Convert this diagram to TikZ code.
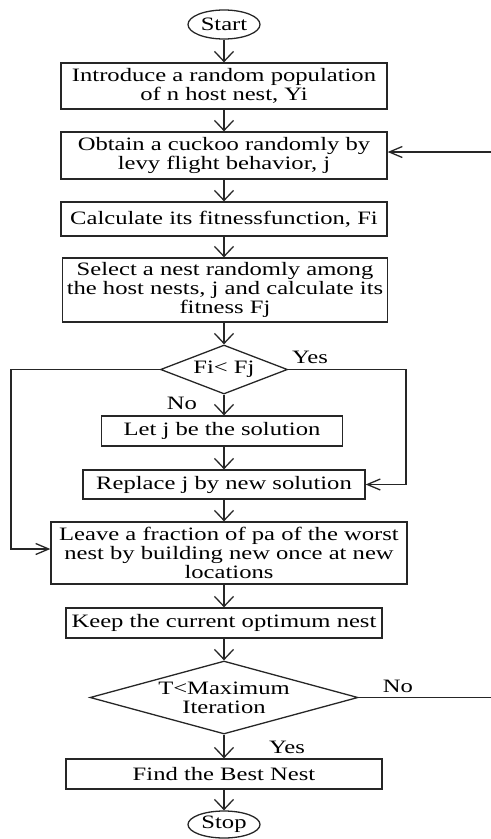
\documentclass[tikz,border=0pt]{standalone}
\usepackage{fontspec}
\setmainfont{Liberation Serif}[FakeStretch=1.3]
\usetikzlibrary{shapes.geometric,arrows.meta}
\newcommand{\fsz}{\fontsize{19}{19}\selectfont}
\begin{document}
\begin{tikzpicture}[x=1bp,y=-1bp,
  line/.style={draw=black!85, line width=1.3bp},
  box/.style={line, rectangle, inner sep=0pt, align=center, font=\fsz},
  term/.style={line, ellipse, inner sep=0pt, font=\fsz, minimum width=72bp},
  dec/.style={line, diamond, inner sep=0pt, align=center, font=\fsz},
  lbl/.style={inner sep=0pt, font=\fsz},
  varr/.style={line, -{Straight Barb[length=10bp,width=19bp,line width=1.3bp]}},
  harr/.style={line, -{Straight Barb[length=13bp,width=11bp,line width=1.3bp]}}]
\useasboundingbox (0,0) rectangle (491,839);
\node[term, minimum height=29bp] (start) at (224,24.5) {Start};
\node[box, minimum width=326bp, minimum height=46bp] (b1) at (224,86) {Introduce a random population\\of n host nest, Yi};
\node[box, minimum width=326bp, minimum height=47bp] (b2) at (224,155.5) {Obtain a cuckoo randomly by\\levy flight behavior, j};
\node[box, minimum width=326bp, minimum height=34bp] (b3) at (224,219) {Calculate its fitnessfunction, Fi};
\node[box, minimum width=325bp, minimum height=64bp] (b4) at (225,290) {Select a nest randomly among\\the host nests, j and calculate its\\fitness Fj};
\node[dec, minimum width=127bp, minimum height=49bp, aspect=2.6] (d1) at (224,369.5) {Fi< Fj};
\node[box, minimum width=241bp, minimum height=30bp] (b5) at (222,431) {Let j be the solution};
\node[box, minimum width=282bp, minimum height=29bp] (b6) at (224,484.5) {Replace j by new solution};
\node[box, minimum width=356bp, minimum height=62bp] (b7) at (229,553) {Leave a fraction of pa of the worst\\nest by building new once at new\\locations};
\node[box, minimum width=316bp, minimum height=30bp] (b8) at (224,623) {Keep the current optimum nest};
\node[dec, minimum width=268bp, minimum height=73bp, aspect=3.67] (d2) at (224,697.5) {T<Maximum\\Iteration};
\node[box, minimum width=316bp, minimum height=30bp] (b9) at (224,774) {Find the Best Nest};
\node[term, minimum height=27bp] (stop) at (224,824.5) {Stop};
\node[lbl] (yes1) at (310,357) {Yes};
\node[lbl] (no1) at (182,403) {No};
\node[lbl] (no2) at (398,686) {No};
\node[lbl] (yes2) at (287,747) {Yes};
\coordinate (r1) at (491,152);
\coordinate (r2) at (491,697.5);
\coordinate (lc) at (11,369.5);
\coordinate (lb) at (11,549);
\coordinate (rc) at (406,369.5);
\draw[varr] (start.south) -- (start.south |- b1.north);
\draw[varr] (b1.south) -- (b1.south |- b2.north);
\draw[varr] (b2.south) -- (b2.south |- b3.north);
\draw[varr] (b3.south) -- (b3.south |- b4.north);
\draw[varr] (d1.north |- b4.south) -- (d1.north);
\draw[varr] (d1.south) -- (d1.south |- b5.north);
\draw[varr] (d1.south |- b5.south) -- (d1.south |- b6.north);
\draw[varr] (b6.south) -- (b6.south |- b7.north);
\draw[varr] (b8.north |- b7.south) -- (b8.north);
\draw[varr] (b8.south) -- (d2.north);
\draw[varr] (d2.south) -- (b9.north);
\draw[varr] (b9.south) -- (stop.north);
\draw[harr] (r1) -- (r1 -| b2.east);
\draw[harr] (d1.west) -- (lc) -- (lb) -- (lb -| b7.west);
\draw[harr] (d1.east) -- (rc) |- (b6.east);
\draw[line] (d2.east) -- (r2);
\end{tikzpicture}
\end{document}
